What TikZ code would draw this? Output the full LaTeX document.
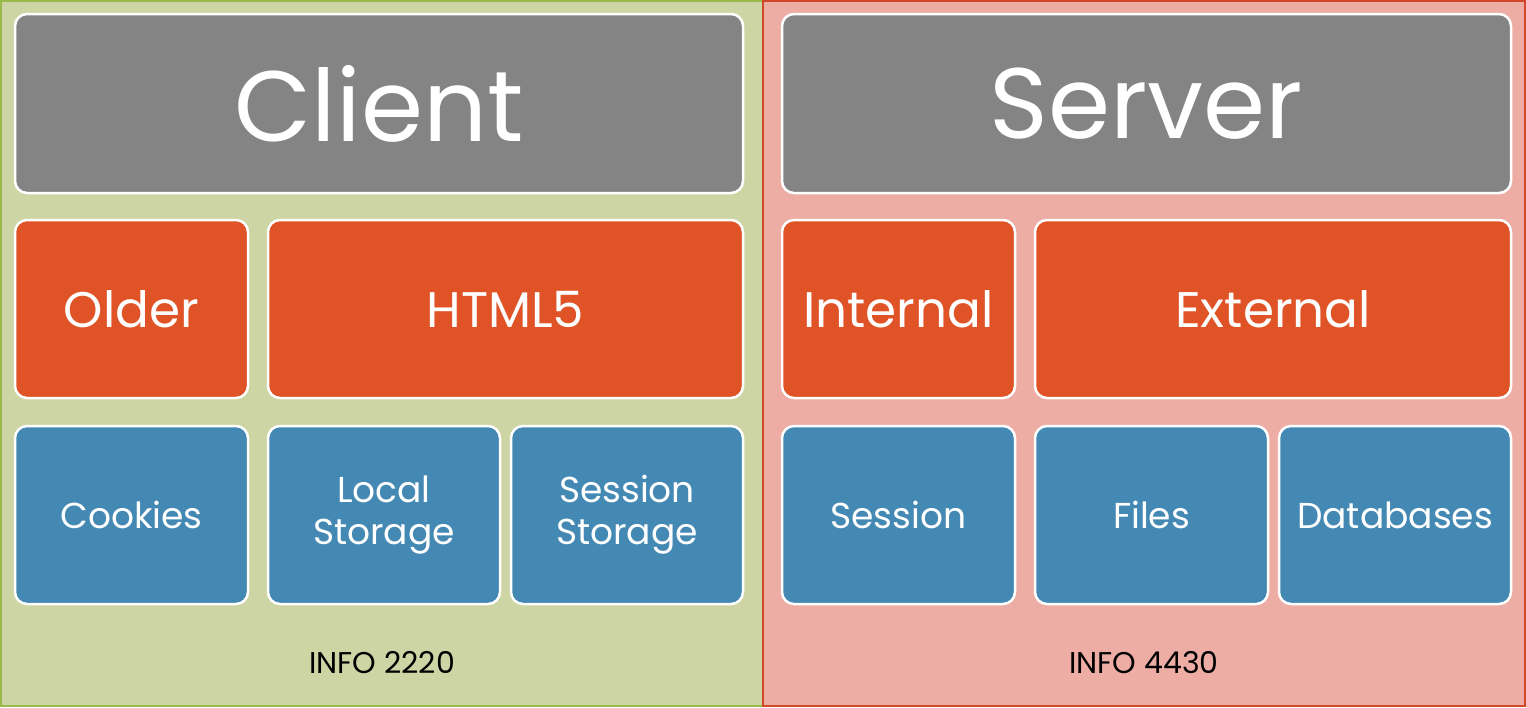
\documentclass[tikz,border=0pt]{standalone}
\usepackage{fontspec}
\setmainfont{Poppins}
\definecolor{gray1}{HTML}{848484}
\definecolor{orange1}{HTML}{E05326}
\definecolor{blue1}{HTML}{4389B4}
\definecolor{green1}{HTML}{CCD5A3}
\definecolor{olive1}{HTML}{98B94C}
\definecolor{pink1}{HTML}{EDADA5}
\definecolor{red1}{HTML}{D04A2A}
\tikzset{
  box/.style={draw=white,line width=2.5pt,rounded corners=12pt,text=white,align=center,inner sep=0pt},
  titlebox/.style={box,fill=gray1,font=\fontsize{100}{100}\selectfont},
  midbox/.style={box,fill=orange1,font=\fontsize{50}{50}\selectfont},
  lowbox/.style={box,fill=blue1,font=\fontsize{36}{42}\selectfont},
  course/.style={font=\fontsize{30}{30}\selectfont}
}
\begin{document}
\begin{tikzpicture}[x=1pt,y=-1pt]
\useasboundingbox (0,0) rectangle (1526,707);

%panels
\filldraw[draw=olive1,fill=green1,line width=1.5pt] (0.75,0.75) rectangle (763,706);
\filldraw[draw=red1,fill=pink1,line width=1.5pt] (763,0.75) rectangle (1525,706);

%client
\node[titlebox,minimum width=728,minimum height=179] (client) at (379,103.5) {Client};
\node[midbox,minimum width=233,minimum height=178] (older) at (131.5,309) {Older};
\node[midbox,minimum width=475,minimum height=178] (html) at (505.5,309) {HTML5};
\node[lowbox,minimum width=233,minimum height=178] (cookies) at (131.5,515) {Cookies};
\node[lowbox,minimum width=232,minimum height=178] (local) at (384,515) {Local\\Storage};
\node[lowbox,minimum width=232,minimum height=178] (sstore) at (627,515) {Session\\Storage};
\node[course] (info1) at (382,663) {INFO 2220};

%server
\node[titlebox,minimum width=729,minimum height=179] (server) at (1146.5,103.5) {Server};
\node[midbox,minimum width=233,minimum height=178] (internal) at (898.5,309) {Internal};
\node[midbox,minimum width=476,minimum height=178] (external) at (1273,309) {External};
\node[lowbox,minimum width=233,minimum height=178] (session) at (898.5,515) {Session};
\node[lowbox,minimum width=233,minimum height=178] (files) at (1151.5,515) {Files};
\node[lowbox,minimum width=232,minimum height=178] (db) at (1395,515) {Databases};
\node[course] (info2) at (1144,663) {INFO 4430};
\end{tikzpicture}
\end{document}
